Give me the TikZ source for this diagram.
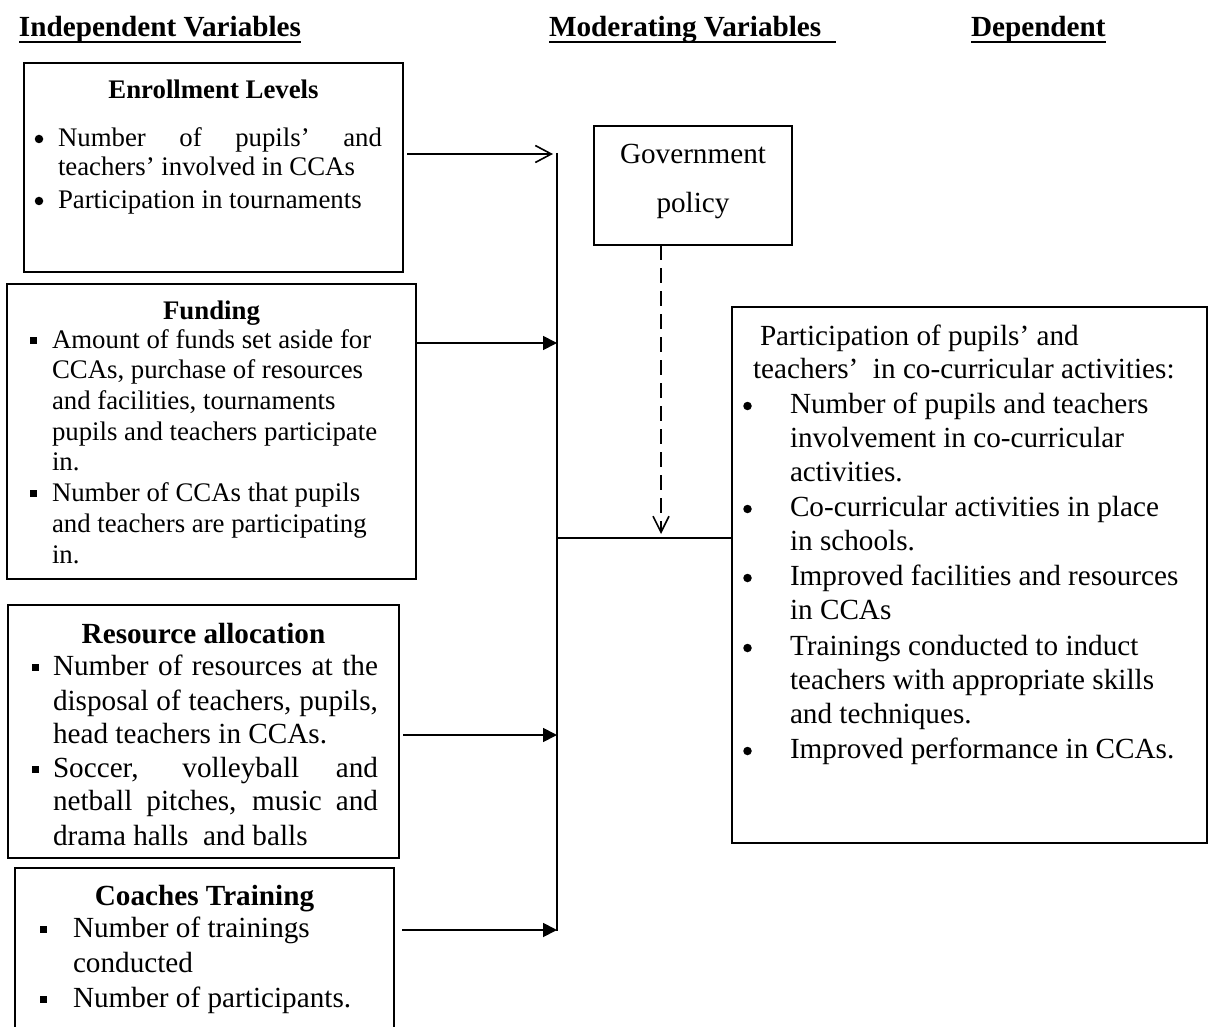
\documentclass[tikz,border=0pt]{standalone}
\usepackage{fontspec}
\setmainfont{Liberation Serif}
\usetikzlibrary{arrows.meta,calc}
\begin{document}
\begin{tikzpicture}[x=1pt,y=-1pt,
  every node/.style={inner sep=0pt, outer sep=0pt},
  lnA/.style={font=\fontsize{26.8}{30.7}\selectfont, anchor=base west},
  lnB/.style={font=\fontsize{29.2}{34}\selectfont, anchor=base west},
  ttlA/.style={font=\fontsize{26.8}{30.7}\selectfont\bfseries, anchor=base},
  ttlB/.style={font=\fontsize{29.2}{34}\selectfont\bfseries, anchor=base},
  ctr/.style={font=\fontsize{29.2}{34}\selectfont, anchor=base},
  hd/.style={font=\fontsize{29.2}{34}\selectfont\bfseries, anchor=base west},
  ul/.style={line width=2.6pt},
  boxed/.style={draw, line width=1.8pt, anchor=north west},
  conn/.style={line width=1.8pt},
  openarrow/.style={conn, -{Straight Barb[length=16pt,width=17pt,line width=1.6pt]}},
  solidarrow/.style={conn, -{Triangle[length=14pt,width=14pt]}},
  sqb/.style={fill=black, minimum size=7pt, anchor=center},
  rdb/.style={circle, fill=black, minimum size=8.5pt, anchor=center},
]
\useasboundingbox (0,0) rectangle (1210,1027);
\fill[white] (0,0) rectangle (1210,1027);
\clip (0,0) rectangle (1210,1027);

% headings
\node[hd] (hind) at (19,37) {Independent Variables};
\node[hd] (hmod) at (549,37) {Moderating Variables};
\node[hd] (hdep) at (971,37) {Dependent};
\draw[ul] ($(hind.base west)+(0,5)$) -- ($(hind.base east)+(0,5)$);
\draw[ul] ($(hmod.base west)+(0,5)$) -- ($(hmod.base east)+(15,5)$);
\draw[ul] ($(hdep.base west)+(0,5)$) -- ($(hdep.base east)+(0,5)$);

% boxes
\node[boxed, minimum width=379pt, minimum height=209pt] (enroll) at (24,63) {};
\node[boxed, minimum width=409pt, minimum height=295pt] (fund) at (7,284) {};
\node[boxed, minimum width=391pt, minimum height=253pt] (res) at (8,605) {};
\node[boxed, minimum width=379pt, minimum height=220pt] (coach) at (15,868) {};
\node[boxed, minimum width=198pt, minimum height=119pt] (gov) at (594,126) {};
\node[boxed, minimum width=475pt, minimum height=536pt] (dep) at (732,307) {};

% Enrollment
\node[ttlA] (et) at (213.5,99) {Enrollment Levels};
\node[rdb] (eb1) at (39,139) {};
\node[rdb] (eb2) at (39,201) {};
\node[lnA] (e1) at (58,147) {\makebox[324pt][s]{Number of pupils’ and}};
\node[lnA] (e2) at (58,176) {teachers’ involved in CCAs};
\node[lnA] (e3) at (58,209) {Participation in tournaments};

% Funding
\node[ttlA] (ft) at (211.5,319) {Funding};
\node[sqb] (fb1) at (33.5,340.5) {};
\node[sqb] (fb2) at (33.5,493.5) {};
\node[lnA] (f1) at (52,348) {Amount of funds set aside for};
\node[lnA] (f2) at (52,378) {CCAs, purchase of resources};
\node[lnA] (f3) at (52,409) {and facilities, tournaments};
\node[lnA] (f4) at (52,440) {pupils and teachers participate};
\node[lnA] (f5) at (52,470) {in.};
\node[lnA] (f6) at (52,501) {Number of CCAs that pupils};
\node[lnA] (f7) at (52,532) {and teachers are participating};
\node[lnA] (f8) at (52,563) {in.};

% Resource allocation
\node[ttlB] (rt) at (203.5,643) {Resource allocation};
\node[sqb] (rb1) at (35.5,667.5) {};
\node[sqb] (rb2) at (35.5,769.5) {};
\node[lnB] (r1) at (53,675) {\makebox[325pt][s]{Number of resources at the}};
\node[lnB] (r2) at (53,710) {\makebox[325pt][s]{disposal of teachers, pupils,}};
\node[lnB] (r3) at (53,743) {head teachers in CCAs.};
\node[lnB] (r4) at (53,777) {\makebox[325pt][s]{Soccer, volleyball and}};
\node[lnB] (r5) at (53,810) {\makebox[325pt][s]{netball pitches, music and}};
\node[lnB] (r6) at (53,845) {drama halls\ \ and balls};

% Coaches training
\node[ttlB] (ct) at (204.5,905) {Coaches Training};
\node[sqb] (cb1) at (43,929.5) {};
\node[sqb] (cb2) at (43,999.5) {};
\node[lnB] (c1) at (73,937) {Number of trainings};
\node[lnB] (c2) at (73,972) {conducted};
\node[lnB] (c3) at (73,1007) {Number of participants.};

% Government policy
\node[ctr] (g1) at (693,164) {Government};
\node[ctr] (g2) at (693,213) {policy};

% Dependent
\node[lnB] (d0) at (760,345) {Participation of pupils’ and};
\node[lnB] (d00) at (753,378) {teachers’\ \ in co-curricular activities:};
\node[rdb] (db1) at (747.5,406) {};
\node[rdb] (db2) at (747.5,509) {};
\node[rdb] (db3) at (747.5,578) {};
\node[rdb] (db4) at (747.5,648) {};
\node[rdb] (db5) at (747.5,751) {};
\node[lnB] (d1) at (790,413) {Number of pupils and teachers};
\node[lnB] (d2) at (790,447) {involvement in co-curricular};
\node[lnB] (d3) at (790,481) {activities.};
\node[lnB] (d4) at (790,516) {Co-curricular activities in place};
\node[lnB] (d5) at (790,550) {in schools.};
\node[lnB] (d6) at (790,585) {Improved facilities and resources};
\node[lnB] (d7) at (790,619) {in CCAs};
\node[lnB] (d8) at (790,655) {Trainings conducted to induct};
\node[lnB] (d9) at (790,689) {teachers with appropriate skills};
\node[lnB] (d10) at (790,723) {and techniques.};
\node[lnB] (d11) at (790,758) {Improved performance in CCAs.};

% connectors
\coordinate (bustop) at (557,153);
\coordinate (busbot) at (557,931);
\draw[conn] (bustop) -- (busbot);
\coordinate (a1) at (553,154);
\coordinate (a2) at (557,343);
\coordinate (a3) at (557,735);
\coordinate (a4) at (557,930);
\draw[openarrow] ($(enroll.east |- a1)+(4,0)$) -- (a1);
\draw[solidarrow] (fund.east |- a2) -- (a2);
\draw[solidarrow] ($(res.east |- a3)+(4,0)$) -- (a3);
\draw[solidarrow] ($(coach.east |- a4)+(8,0)$) -- (a4);
\coordinate (junc) at (557,538);
\draw[conn] (junc) -- (dep.west |- junc);
\coordinate (dtip) at (661,534);
\draw[conn, dash pattern=on 15pt off 8pt, -{Straight Barb[length=16pt,width=16pt,line width=1.6pt]}] (gov.south -| dtip) -- (dtip);
\end{tikzpicture}
\end{document}
